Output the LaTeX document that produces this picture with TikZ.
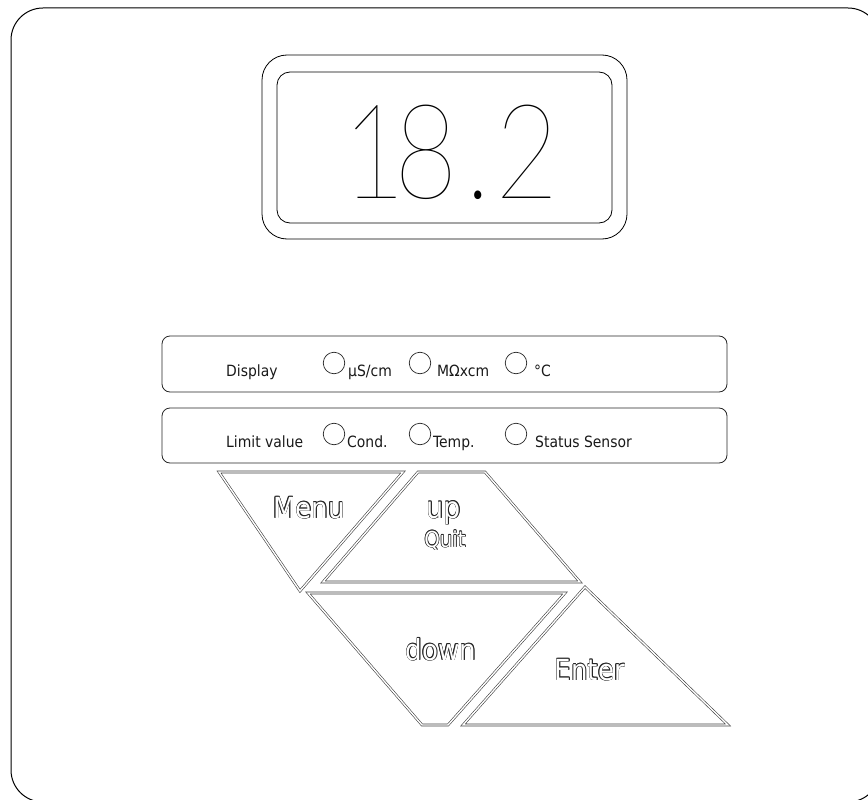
\documentclass[tikz,border=0pt]{standalone}
\usepackage{fontspec}
\setmainfont{DejaVu Sans Condensed}
\newcommand\lcdsize{138}
\IfFontExistsTF{Lato Hairline}{\newfontfamily\lcdfont{Lato Hairline}\renewcommand\lcdsize{132}}{%
 \IfFontExistsTF{FiraSans-Hair.otf}{\newfontfamily\lcdfont{FiraSans-Hair.otf}}{%
  \IfFontExistsTF{DejaVu Sans ExtraLight}{\newfontfamily\lcdfont{DejaVu Sans ExtraLight}\renewcommand\lcdsize{130}}{%
   \IfFontExistsTF{Lato Thin}{\newfontfamily\lcdfont{Lato Thin}\renewcommand\lcdsize{132}}{%
    \newfontfamily\lcdfont{Liberation Sans}\renewcommand\lcdsize{132}}}}}
\definecolor{olc}{gray}{0.15}
\newlength\olw \setlength\olw{0.65pt}
\newcommand\olcopy[3]{\rlap{\kern#1\raisebox{#2}{\color{olc}#3}}}
\newcommand\outl[1]{\olcopy{\olw}{0pt}{#1}\olcopy{-\olw}{0pt}{#1}\olcopy{0pt}{\olw}{#1}\olcopy{0pt}{-\olw}{#1}\olcopy{.7\olw}{.7\olw}{#1}\olcopy{-.7\olw}{.7\olw}{#1}\olcopy{.7\olw}{-.7\olw}{#1}\olcopy{-.7\olw}{-.7\olw}{#1}{\color{white}#1}}
\begin{document}
\begin{tikzpicture}[x=1pt,y=-1pt,
  frame/.style={draw=black, line width=1pt, rounded corners=32pt},
  panel/.style={draw=black!85, line width=0.8pt, rounded corners=8pt},
  lbl/.style={inner sep=0pt, anchor=base west, font=\fontsize{15.5}{16}\selectfont, text=black!90},
  led/.style={draw=black!85, line width=0.7pt, circle, minimum size=21.5pt, inner sep=0pt},
  btn/.style={draw=black!75, line width=0.6pt, double=white, double distance=1.4pt, line join=miter},
  key/.style={inner sep=0pt, anchor=base},
  lcd/.style={inner sep=0pt, anchor=base, xscale=0.83, font=\lcdfont\fontsize{\lcdsize}{140}\selectfont}
]
\useasboundingbox (0,0) rectangle (868,800);
% outer housing
\draw[frame] (11,8) rectangle (880,802);
% display window
\draw[line width=0.8pt, rounded corners=25pt] (262,55) rectangle (627,239);
\draw[line width=0.8pt, rounded corners=13pt] (277,72) rectangle (612,223);
\node[lcd] (val) at (451,198) {1\kern-14.5pt 8\kern9.5pt.\kern5pt 2};
% panels
\draw[panel] (162,336) rectangle (727,392);
\draw[panel] (162,408) rectangle (727,463);
% row 1
\node[lbl] (disp) at (226,376) {Display};
\node[led] (d1) at (334,363) {};
\node[lbl] (us) at (348,376) {µS/cm};
\node[led] (d2) at (420,363) {};
\node[lbl] (mo) at (437,376) {MΩxcm};
\node[led] (d3) at (516,363) {};
\node[lbl] (degc) at (534,376) {°C};
% row 2
\node[lbl] (lim) at (226,447) {Limit value};
\node[led] (l1) at (334,434) {};
\node[lbl] (cond) at (347,447) {Cond.};
\node[led] (l2) at (420,434) {};
\node[lbl] (temp) at (433,447) {Temp.};
\node[led] (l3) at (516,434) {};
\node[lbl] (stat) at (535,447) {Status Sensor};
% buttons
\draw[btn] (219,472) -- (403,472) -- (300,591) -- cycle;
\draw[btn] (418,472) -- (485,472) -- (580,582) -- (323,582) -- cycle;
\draw[btn] (308,593) -- (565,593) -- (448,725) -- (422,725) -- cycle;
\draw[btn] (585,587) -- (728,725) -- (463,725) -- cycle;
\node[key, font=\fontsize{29}{30}\selectfont] (menu) at (309,518) {\outl{Menu}};
\node[key, font=\fontsize{30}{31}\selectfont] (up) at (444,518) {\outl{up}};
\node[key, font=\fontsize{22}{23}\selectfont] (quit) at (445,547) {\outl{Quit}};
\node[key, font=\fontsize{29}{30}\selectfont] (down) at (441,660) {\outl{down}};
\node[key, font=\fontsize{29}{30}\selectfont] (enter) at (590,680) {\outl{Enter}};
\end{tikzpicture}
\end{document}
